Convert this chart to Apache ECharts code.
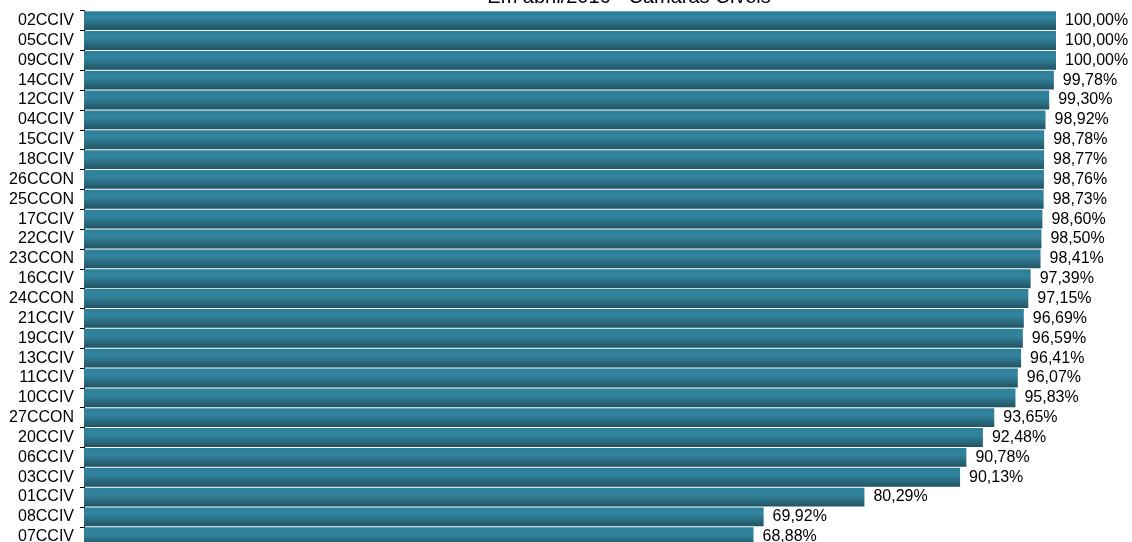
<!DOCTYPE html>
<html>
<head>
<meta charset="utf-8">
<script src="https://cdn.jsdelivr.net/npm/echarts@6/dist/echarts.min.js"></script>
<style>html,body{margin:0;padding:0;background:#fff;}#c{width:1132px;height:542px;}</style>
</head>
<body>
<div id="c"></div>
<script>
const titleText = 'Em abril/2016 - Câmaras Cíveis';
const categories = ['02CCIV','05CCIV','09CCIV','14CCIV','12CCIV','04CCIV','15CCIV','18CCIV','26CCON','25CCON','17CCIV','22CCIV','23CCON','16CCIV','24CCON','21CCIV','19CCIV','13CCIV','11CCIV','10CCIV','27CCON','20CCIV','06CCIV','03CCIV','01CCIV','08CCIV','07CCIV'];
const values = [100.00,100.00,100.00,99.78,99.30,98.92,98.78,98.77,98.76,98.73,98.60,98.50,98.41,97.39,97.15,96.69,96.59,96.41,96.07,95.83,93.65,92.48,90.78,90.13,80.29,69.92,68.88];

const chart = echarts.init(document.getElementById('c'), null, {renderer: 'canvas'});
chart.setOption({
  animation: false,
  backgroundColor: '#ffffff',
  graphic: [{
    type: 'text',
    style: {
      text: titleText, x: 629, y: -3, align: 'center', verticalAlign: 'middle',
      fontSize: 20, fontFamily: 'Liberation Sans, Arial, sans-serif', fill: '#000'
    }
  }],
  grid: { left: 84, right: 76, top: 10.7, height: 536, containLabel: false, outerBoundsMode: 'none' },
  xAxis: { type: 'value', min: 0, max: 100, show: false },
  yAxis: {
    type: 'category', data: categories, inverse: true,
    axisLine: { show: true, lineStyle: { color: '#000', width: 1 } },
    axisTick: { show: true, length: 4, interval: 0, lineStyle: { color: '#000' } },
    axisLabel: { color: '#000', fontSize: 16, interval: 0, fontFamily: 'Liberation Sans, Arial, sans-serif', margin: 10 },
    splitLine: { show: false }
  },
  series: [{
    type: 'bar',
    data: values,
    barCategoryGap: '5%',
    itemStyle: {
      color: new echarts.graphic.LinearGradient(0, 0, 0, 1, [
        { offset: 0, color: '#2e7f98' },
        { offset: 0.35, color: '#32859f' },
        { offset: 1, color: '#225362' }
      ])
    },
    label: {
      show: true, position: 'right', distance: 9, color: '#000', fontSize: 16,
      fontFamily: 'Liberation Sans, Arial, sans-serif',
      formatter: p => p.value.toFixed(2).replace('.', ',') + '%'
    }
  }]
});
</script>
</body>
</html>
